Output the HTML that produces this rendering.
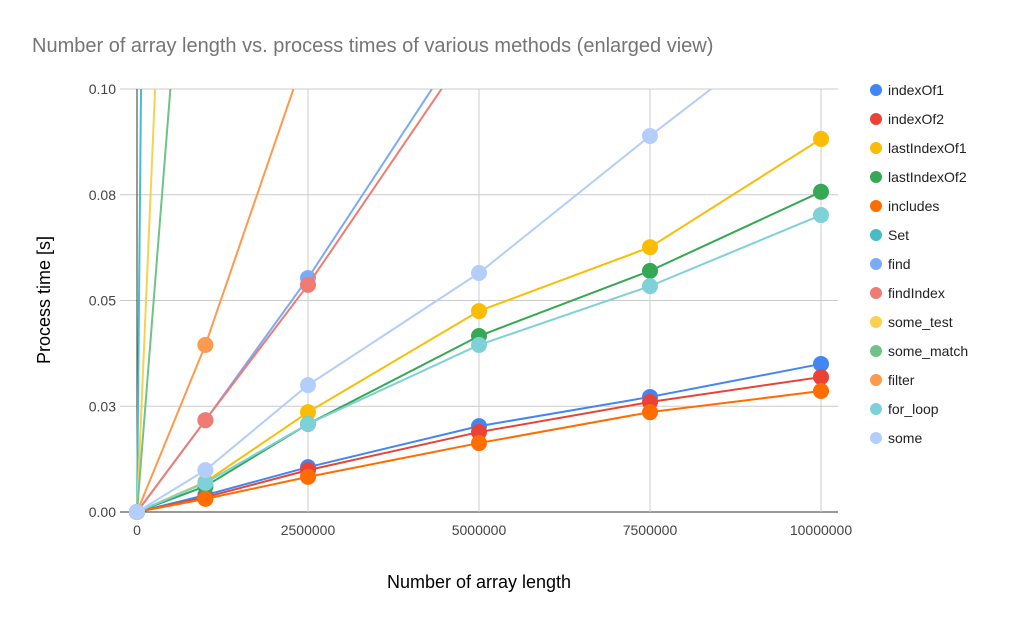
<!DOCTYPE html>
<html><head><meta charset="utf-8"><style>
body{margin:0;background:#fff;font-family:"Liberation Sans",Arial,sans-serif}
</style></head><body>
<svg id="chart" width="1010" height="625" xmlns="http://www.w3.org/2000/svg">
<defs><clipPath id="clip"><rect x="120" y="89" width="720" height="440"/></clipPath></defs>
<text x="32" y="52" font-size="20" fill="#757575">Number of array length vs. process times of various methods (enlarged view)</text>
<g id="grid"></g>
<g id="series" clip-path="url(#clip)"></g>
<g id="legend"></g>
<text x="479" y="588" font-size="18" text-anchor="middle" fill="#000">Number of array length</text>
<text transform="translate(50,300) rotate(-90)" font-size="18" text-anchor="middle" fill="#000">Process time [s]</text>
</svg>
<script>
const xValues=[0,1000000,2500000,5000000,7500000,10000000];
const xTicks=[0,2500000,5000000,7500000,10000000];
const yTicks=[0,0.025,0.05,0.075,0.1];
const yTickLabels=["0.00","0.03","0.05","0.08","0.10"];
const seriesNames=["indexOf1","indexOf2","lastIndexOf1","lastIndexOf2","includes","Set","find","findIndex","some_test","some_match","filter","for_loop","some"];
const seriesColors=["#4285f4","#ea4335","#fbbc04","#34a853","#ff6d01","#46bdc6","#7baaf7","#f07b72","#fcd04f","#71c287","#ff994d","#7ed1d7","#b3cefb"];
const indexOf1=[0,0.004,0.0106,0.0203,0.0272,0.035];
const indexOf2=[0,0.0035,0.0099,0.0189,0.026,0.0319];
const lastIndexOf1=[0,0.0071,0.0236,0.0475,0.0626,0.0882];
const lastIndexOf2=[0,0.0061,0.0208,0.0416,0.057,0.0757];
const includes=[0,0.0031,0.0083,0.0163,0.0236,0.0286];
const setVals=[0,1.7,4.2,8.5,12.7,17];
const find=[0,0.0217,0.0553,0.117,0.18,0.24];
const findIndex=[0,0.0217,0.0537,0.113,0.17,0.23];
const someTest=[0,0.378,0.94,1.9,2.8,3.7];
const someMatch=[0,0.205,0.51,1.02,1.5,2.0];
const filter=[0,0.0395,0.11,0.22,0.33,0.44];
const forLoop=[0,0.0069,0.0208,0.0395,0.0534,0.0702];
const some=[0,0.0099,0.030,0.0565,0.0889,0.120];
const seriesData=[indexOf1,indexOf2,lastIndexOf1,lastIndexOf2,includes,setVals,find,findIndex,someTest,someMatch,filter,forLoop,some];
const NS="http://www.w3.org/2000/svg";
const X=v=>137+v/10000000*684;
const Y=v=>512-v/0.1*423;
function mk(tag,attrs,parent,text){const e=document.createElementNS(NS,tag);for(const k in attrs)e.setAttribute(k,attrs[k]);if(text!==undefined)e.textContent=text;parent.appendChild(e);return e;}
const grid=document.getElementById('grid');
yTicks.forEach((t,i)=>{
 const l=mk('line',{x1:120,x2:838,y1:Y(t),y2:Y(t),stroke:i==0?'#333':'#ccc','stroke-width':1},grid);
 
 
 const tx=mk('text',{x:116,y:Y(t)+5,'font-size':14,'text-anchor':'end',fill:'#444'},grid,yTickLabels[i]);
 
 
});
xTicks.forEach((t,i)=>{
 const l=mk('line',{x1:X(t),x2:X(t),y1:89,y2:512,stroke:i==0?'#333':'#ccc','stroke-width':1},grid);
 
 
 const tx=mk('text',{x:X(t),y:535,'font-size':14,'text-anchor':'middle',fill:'#444'},grid,String(t));
 
 
});
const sg=document.getElementById('series');
seriesData.forEach((d,s)=>{
 const g=mk('g',{},sg);
 
 
 const pts=d.map((v,i)=>X(xValues[i])+','+Y(v)).join(' ');
 const pl=mk('polyline',{points:pts,fill:'none',stroke:seriesColors[s],'stroke-width':2},g);
 
 
 d.forEach((v,i)=>{const c=mk('circle',{cx:X(xValues[i]),cy:Y(v),r:8,fill:seriesColors[s]},g);
  
  });
});
const lg=document.getElementById('legend');
seriesNames.forEach((n,i)=>{
 const g=mk('g',{},lg);
 
 
 mk('circle',{cx:876,cy:90+i*29,r:6,fill:seriesColors[i]},g);
 mk('text',{x:888,y:95+i*29,'font-size':14,fill:'#222'},g,n);
});
</script>
</body></html>
